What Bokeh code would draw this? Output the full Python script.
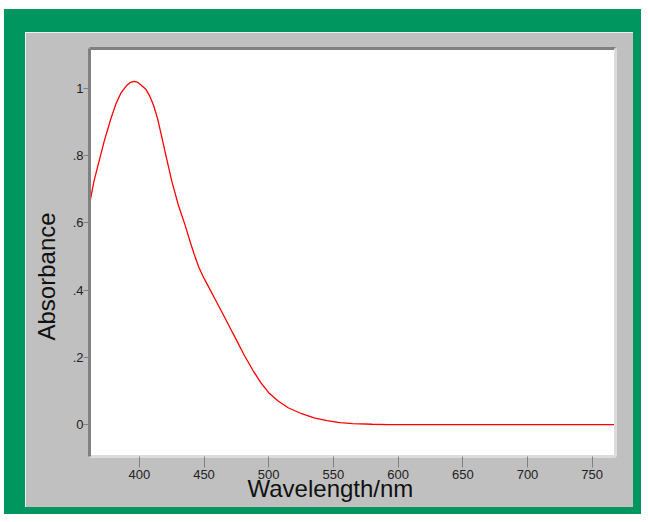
from bokeh.plotting import figure
from bokeh.models import FixedTicker, Range1d, LinearAxis, Title, Spacer
from bokeh.layouts import column, row
from bokeh.embed import file_html
from bokeh.resources import INLINE

# ---- data ----
wavelength = [361.5, 365, 370, 373, 378, 382, 386, 390, 393, 396, 399, 402, 405, 408,
              411, 414, 417, 420, 425, 430, 435, 440, 443, 446, 449, 452, 459, 465, 470,
              475, 481, 488, 494, 500, 507, 515, 525, 535, 545, 555, 565, 580, 592, 620,
              680, 768]
absorbance = [0.655, 0.725, 0.80, 0.845, 0.91, 0.955, 0.988, 1.008, 1.018, 1.021, 1.018,
              1.008, 0.998, 0.978, 0.950, 0.912, 0.862, 0.81, 0.726, 0.655, 0.598, 0.535,
              0.50, 0.468, 0.443, 0.421, 0.37, 0.326, 0.289, 0.252, 0.207, 0.16, 0.124,
              0.095, 0.071, 0.05, 0.033, 0.02, 0.012, 0.006, 0.003, 0.001, 0.0, 0.0,
              0.0, 0.0]
x_ticks = [400, 450, 500, 550, 600, 650, 700, 750]
y_ticks = [0, 0.2, 0.4, 0.6, 0.8, 1.0]
y_tick_labels = ["0", ".2", ".4", ".6", ".8", "1"]
x_title = "Wavelength/nm"
y_title = "Absorbance"

GREEN = "#00965f"
GRAY = "#c0c0c0"
DARK = "#808080"
LIGHT = "#dcdcdc"
FONT = "'Liberation Sans Narrow', 'Liberation Sans', Arial, sans-serif"
LABEL_FONT = "'Liberation Sans', Arial, sans-serif"

fig = figure(width=608, height=475, output_backend="svg", toolbar_location=None,
             x_range=Range1d(361.5, 768), y_range=Range1d(-0.095, 1.119),
             min_border_left=63, min_border_right=18, min_border_top=16,
             min_border_bottom=51)
fig.border_fill_color = GRAY
fig.background_fill_color = "white"
fig.outline_line_color = None
fig.grid.visible = False

fig.line(wavelength, absorbance, line_color="#ff0000", line_width=1.3)

for ax in (fig.xaxis[0], fig.yaxis[0]):
    ax.major_tick_line_color = DARK
    ax.major_tick_in = 0
    ax.minor_tick_line_color = None
    ax.major_label_text_font = FONT
    ax.major_label_text_font_size = "13px"
    ax.major_label_text_color = "#222222"

fig.xaxis.ticker = FixedTicker(ticks=x_ticks)
fig.xaxis.major_tick_out = 11
fig.xaxis.major_label_standoff = 2
fig.xaxis.axis_line_color = LIGHT
fig.xaxis.axis_line_width = 3

fig.yaxis.ticker = FixedTicker(ticks=y_ticks)
fig.yaxis.major_label_overrides = {t: l for t, l in zip(y_ticks, y_tick_labels)}
fig.yaxis.major_tick_out = 6
fig.yaxis.major_label_standoff = 0
fig.yaxis.axis_line_color = DARK
fig.yaxis.axis_line_width = 3

# top / right frame edges (inset look)
top_axis = LinearAxis(ticker=FixedTicker(ticks=[]), axis_line_color=DARK, axis_line_width=3,
                      major_tick_out=0, major_tick_in=0, minor_tick_line_color=None)
right_axis = LinearAxis(ticker=FixedTicker(ticks=[]), axis_line_color=LIGHT, axis_line_width=3,
                        major_tick_out=0, major_tick_in=0, minor_tick_line_color=None)
fig.add_layout(top_axis, "above")
fig.add_layout(right_axis, "right")

fig.add_layout(Title(text=x_title, align="left", offset=158, standoff=-18,
                     text_font=LABEL_FONT, text_font_size="24px", text_font_style="normal",
                     text_color="#111111"), "below")
fig.add_layout(Title(text=y_title, align="left", offset=116, standoff=15,
                     vertical_align="top",
                     text_font=LABEL_FONT, text_font_size="24px", text_font_style="normal",
                     text_color="#111111"), "left")


def band(w, h, color):
    return Spacer(width=w, height=h, styles={"background-color": color})


inner = column(band(637, 23, GREEN),
               row(band(21, 475, GREEN), fig, band(8, 475, GREEN)),
               band(637, 7, GREEN))
p = column(band(641, 9, "white"), row(band(4, 505, "white"), inner))

open("out.html", "w").write(file_html(p, INLINE))
